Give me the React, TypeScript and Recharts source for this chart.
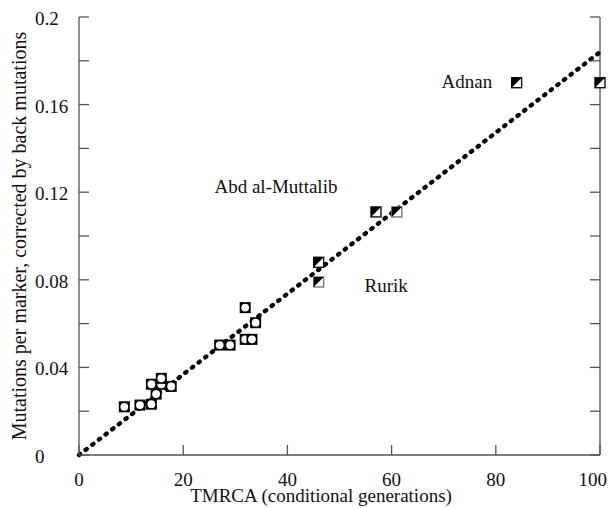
import React from 'react';
import { ScatterChart, Scatter, XAxis, YAxis } from 'recharts';

// TMRCA (generations) vs mutations per marker
const openX = [8.7, 11.7, 13.9, 13.9, 14.8, 15.8, 15.8, 17.7, 27.0, 29.0, 31.9, 31.9, 33.2, 33.9];
const openY = [0.022, 0.0228, 0.0232, 0.0323, 0.0278, 0.0323, 0.035, 0.0313, 0.0502, 0.0502, 0.0673, 0.0528, 0.0528, 0.0604];

const halfX = [46, 57, 84, 100];
const halfY = [0.088, 0.111, 0.17, 0.17];

const halfGreyX = [46, 61];
const halfGreyY = [0.079, 0.111];

// proportional fit through the origin
const fitX = [0, 100];
const fitY = [0, 0.184];

const annoText = ['Adnan', 'Abd al-Muttalib', 'Rurik'];
const annoX = [69.6, 26.0, 54.8];
const annoY = [0.1677, 0.1198, 0.0743];

const xTicks = [0, 20, 40, 60, 80, 100];
const xTickLabels = ['0', '20', '40', '60', '80', '100'];
const yTicks = [0, 0.02, 0.04, 0.06, 0.08, 0.1, 0.12, 0.14, 0.16, 0.18, 0.2];
const yTickLabels: Record<string, string> = { '0': '0', '0.04': '0.04', '0.08': '0.08', '0.12': '0.12', '0.16': '0.16', '0.2': '0.2' };

const zip = (xs: number[], ys: number[]) => xs.map((x, i) => ({ x, y: ys[i] }));
const openData = zip(openX, openY);
const halfData = zip(halfX, halfY);
const halfGreyData = zip(halfGreyX, halfGreyY);
const fitData = zip(fitX, fitY);
const annoData = annoText.map((t, i) => ({ x: annoX[i], y: annoY[i], text: t }));

const FRAME = '#555';
const textStyle = (size: number): React.CSSProperties => ({
  fontFamily: "'Liberation Serif', 'DejaVu Serif', serif",
  fontSize: size,
  fill: '#111',
});

const BottomTick = (p: any) => {
  const { x, y, payload } = p;
  const idx = xTicks.indexOf(payload.value);
  const last = idx === xTicks.length - 1;
  return (
    <g>
      <line x1={x} y1={y} x2={x} y2={y - 10} stroke={FRAME} strokeWidth={1.3} />
      <text x={last ? x + 7 : x} y={y + 31} textAnchor={last ? 'end' : 'middle'} style={textStyle(19)}>
        {xTickLabels[idx]}
      </text>
    </g>
  );
};

const TopTick = (p: any) => {
  const { x, y } = p;
  return <line x1={x} y1={y} x2={x} y2={y + 10} stroke={FRAME} strokeWidth={1.3} />;
};

const LeftTick = (p: any) => {
  const { x, y, payload } = p;
  const key = String(Math.round(payload.value * 100) / 100);
  const label = yTickLabels[key];
  return (
    <g>
      <line x1={x} y1={y} x2={x + 10} y2={y} stroke={FRAME} strokeWidth={1.3} />
      {label !== undefined && (
        <text x={x - 44} y={y + 8} textAnchor="start" style={textStyle(19)}>
          {label}
        </text>
      )}
    </g>
  );
};

const RightTick = (p: any) => {
  const { x, y } = p;
  return <line x1={x} y1={y} x2={x - 10} y2={y} stroke={FRAME} strokeWidth={1.3} />;
};

const OpenMarker = (p: any) => {
  const { cx, cy } = p;
  return (
    <g>
      <rect x={cx - 5.5} y={cy - 5.5} width={11} height={11} fill="#000" />
      <circle cx={cx} cy={cy} r={3.9} fill="#fff" />
    </g>
  );
};

const makeHalf = (edge: string) => (p: any) => {
  const { cx, cy } = p;
  const s = 5;
  return (
    <g>
      <rect x={cx - s} y={cy - s} width={2 * s} height={2 * s} fill="#fff" stroke={edge} strokeWidth={1.4} />
      <polygon points={`${cx - s},${cy - s} ${cx + s},${cy - s} ${cx - s},${cy + s}`} fill="#000" />
    </g>
  );
};
const HalfMarker = makeHalf('#111');
const HalfGreyMarker = makeHalf('#777');

const AnnoShape = (p: any) => {
  const { cx, cy, payload } = p;
  return (
    <text x={cx} y={cy} textAnchor="start" style={textStyle(19)}>
      {payload.text}
    </text>
  );
};

const NoShape = () => <g />;

export default function App() {
  return (
    <div style={{ width: 608, height: 508, background: '#fff' }}>
      {/* the figure spans the whole page, so drop the default body margin */}
      <style>{'body { margin: 0; }'}</style>
      <ScatterChart width={608} height={508} margin={{ top: 17, right: 0, bottom: 0, left: 0 }}>
        <XAxis
          xAxisId="b"
          type="number"
          dataKey="x"
          domain={[0, 100]}
          ticks={xTicks}
          interval={0}
          height={53}
          tickSize={0}
          tickMargin={0}
          axisLine={{ stroke: FRAME, strokeWidth: 1.3 }}
          tickLine={false}
          tick={<BottomTick />}
        />
        <XAxis
          xAxisId="t"
          orientation="top"
          type="number"
          dataKey="x"
          domain={[0, 100]}
          ticks={xTicks}
          interval={0}
          height={0}
          tickSize={0}
          tickMargin={0}
          axisLine={{ stroke: FRAME, strokeWidth: 1.3 }}
          tickLine={false}
          tick={<TopTick />}
        />
        <YAxis
          yAxisId="l"
          type="number"
          dataKey="y"
          domain={[0, 0.2]}
          ticks={yTicks}
          interval={0}
          width={79}
          tickSize={0}
          tickMargin={0}
          axisLine={{ stroke: FRAME, strokeWidth: 1.3 }}
          tickLine={false}
          tick={<LeftTick />}
        />
        <YAxis
          yAxisId="r"
          orientation="right"
          type="number"
          dataKey="y"
          domain={[0, 0.2]}
          ticks={yTicks}
          interval={0}
          width={8}
          tickSize={0}
          tickMargin={0}
          axisLine={{ stroke: FRAME, strokeWidth: 1.3 }}
          tickLine={false}
          tick={<RightTick />}
        />
        <Scatter
          xAxisId="t"
          yAxisId="r"
          data={fitData}
          line={{ stroke: '#000', strokeWidth: 4.4, strokeDasharray: '1.4 7', strokeLinecap: 'round' }}
          shape={<NoShape />}
          isAnimationActive={false}
        />
        <Scatter xAxisId="b" yAxisId="l" data={openData} shape={<OpenMarker />} isAnimationActive={false} />
        <Scatter xAxisId="b" yAxisId="l" data={halfData} shape={<HalfMarker />} isAnimationActive={false} />
        <Scatter xAxisId="b" yAxisId="l" data={halfGreyData} shape={<HalfGreyMarker />} isAnimationActive={false} />
        <Scatter xAxisId="b" yAxisId="l" data={annoData} shape={<AnnoShape />} isAnimationActive={false} />
        <text x={321} y={502} textAnchor="middle" style={textStyle(19)}>
          TMRCA (conditional generations)
        </text>
        <text x={26} y={236} transform="rotate(-90 26 236)" textAnchor="middle" style={textStyle(20)}>
          Mutations per marker, corrected by back mutations
        </text>
      </ScatterChart>
    </div>
  );
}
